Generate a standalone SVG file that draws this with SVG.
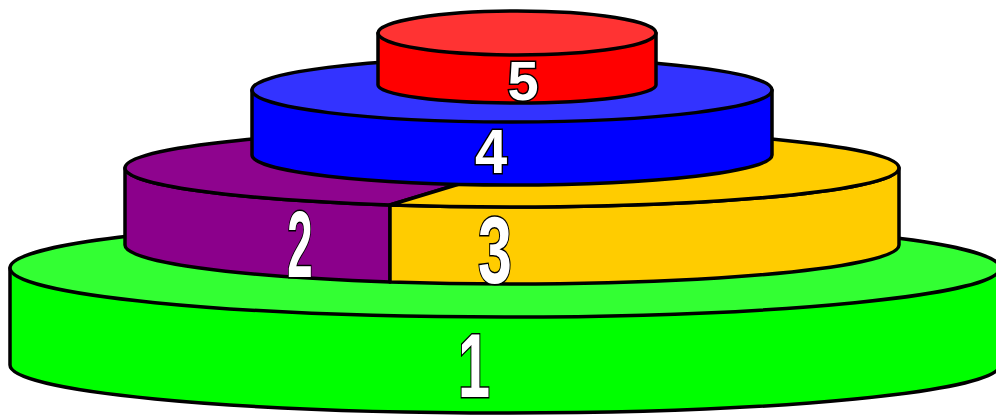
<svg xmlns="http://www.w3.org/2000/svg" width="996" height="416" viewBox="0 0 996 416">
<style>
.o{stroke:#000;stroke-width:3.5;stroke-linejoin:round}
.n{font-family:"Liberation Sans",Arial,sans-serif;font-weight:bold;fill:#fff;stroke:#000;stroke-width:3;paint-order:stroke;text-anchor:middle}
</style>
<rect width="996" height="416" fill="#fff"/>
<g id="tier1">
<path class="o" fill="#00ff00" d="M10,268 L10,365 A495 48 0 0 0 1000,365 L1000,268 Z"/>
<ellipse class="o" fill="#33ff33" cx="505" cy="268" rx="495" ry="49"/>
<text class="n" transform="translate(474,397) scale(0.64,1)" font-size="90">1</text>
</g>
<g id="tier2">
<path class="o" fill="#8b008b" d="M125,168 L125,245 A387 39 0 0 0 390,282 L390,205 A387 39 0 0 1 125,168 Z"/>
<path class="o" fill="#8e048e" d="M390,205 A387 39 0 0 1 125,168 A387 39 0 0 1 512,129 L512,168 Z"/>
<text class="n" transform="translate(300,277) scale(0.48,1)" font-size="95">2</text>
</g>
<g id="tier3">
<path class="o" fill="#ffcc00" d="M390,205 L390,282 A387 39 0 0 0 899,245 L899,168 A387 39 0 0 1 390,205 Z"/>
<path class="o" fill="#ffcc00" d="M390,205 L512,168 L512,129 A387 39 0 0 1 899,168 A387 39 0 0 1 390,205 Z"/>
<text class="n" transform="translate(495,283) scale(0.64,1)" font-size="95">3</text>
</g>
<g id="tier4">
<path class="o" fill="#0000ff" d="M252,90 L252,155 A260 30 0 0 0 772,155 L772,90 Z"/>
<ellipse class="o" fill="#3333ff" cx="512" cy="90" rx="260" ry="32"/>
<text class="n" transform="translate(491,173) scale(0.92,1)" font-size="63">4</text>
</g>
<g id="tier5">
<path class="o" fill="#ff0000" d="M378,33 L378,85 A139 18 0 0 0 656,85 L656,33 Z"/>
<ellipse class="o" fill="#ff3333" cx="517" cy="33" rx="139" ry="22"/>
<text class="n" transform="translate(523,100) scale(1,1)" font-size="56">5</text>
</g>
</svg>
